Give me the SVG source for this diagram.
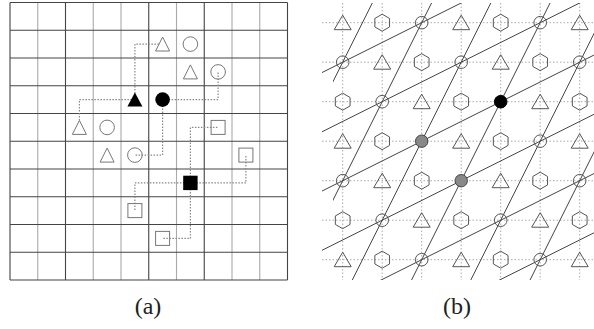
<svg xmlns="http://www.w3.org/2000/svg" width="594" height="329" viewBox="0 0 594 329">
<style>
.gd{stroke:#444;stroke-width:1.1;fill:none}
.gl{stroke:#aaa;stroke-width:1.1;fill:none}
.sa{stroke:#777;stroke-width:1;fill:none}
.dot{stroke:#888;stroke-width:1.2;stroke-dasharray:1.5 1.5;fill:none}
.bg{stroke:#aaa;stroke-width:1;stroke-dasharray:1.5 2;fill:none}
.ln{stroke:#444;stroke-width:1;fill:none}
.sb{stroke:#555;stroke-width:1;fill:none}
.cap{font-family:"Liberation Serif","DejaVu Serif",serif;font-size:24px;fill:#222;text-anchor:middle}
</style>
<defs>
<clipPath id="cs"><rect x="322" y="3" width="272" height="277"/></clipPath>
<clipPath id="ct"><rect x="333" y="3" width="261" height="277"/></clipPath>
<polygon id="tri" points="0,-7.5 -8.5,7 8.5,7"/>
<polygon id="hex" points="0,-8.5 7.36,-4.25 7.36,4.25 0,8.5 -7.36,4.25 -7.36,-4.25"/>
</defs>
<rect width="594" height="329" fill="#fff"/>

<!-- Panel (a) grid -->
<g id="grid-a">
<path class="gl" d="M37.75,2.5V280M93.25,2.5V280M121,2.5V280M176.5,2.5V280M232,2.5V280M259.75,2.5V280"/>
<path class="gd" d="M10,2.5V280M65.5,2.5V280M148.75,2.5V280M204.25,2.5V280M287.5,2.5V280"/>
<path class="gd" d="M10,2.5H287.5M10,30.25H287.5M10,58H287.5M10,85.75H287.5M10,113.5H287.5M10,141.25H287.5M10,169H287.5M10,196.75H287.5M10,224.5H287.5M10,252.25H287.5M10,280H287.5"/>
</g>

<g id="connectors-a">
<path class="dot" d="M134.9,99.6V44.1H159"/>
<path class="dot" d="M134.9,99.6H79.4V120"/>
<path class="dot" d="M162.6,99.6H218.1V71.9"/>
<path class="dot" d="M162.6,99.6V155.1H134.9"/>
<path class="dot" d="M190.4,182.9V127.4H218.1"/>
<path class="dot" d="M190.4,182.9H245.9V155.1"/>
<path class="dot" d="M190.4,182.9H134.9V210.6"/>
<path class="dot" d="M190.4,182.9V238.4H162.6"/>
</g>

<g id="a-tri-filled"><polygon points="134.9,92.6 127.4,106.6 142.4,106.6" fill="#000"/></g>
<g id="a-circ-filled"><circle cx="162.6" cy="99.6" r="7.3" fill="#000"/></g>
<g id="a-sq-filled"><rect x="183.2" y="175.7" width="14.4" height="14.4" fill="#000"/></g>
<g id="a-tri1"><polygon class="sa" points="162.6,37 155.6,51 169.6,51"/></g>
<g id="a-tri2"><polygon class="sa" points="190.4,64.9 183.4,78.9 197.4,78.9"/></g>
<g id="a-tri3"><polygon class="sa" points="79.4,120.4 72.4,134.4 86.4,134.4"/></g>
<g id="a-tri4"><polygon class="sa" points="107.1,148.1 100.1,162.1 114.1,162.1"/></g>
<g id="a-circ1"><circle class="sa" cx="190.4" cy="44.1" r="7.3"/></g>
<g id="a-circ2"><circle class="sa" cx="218.1" cy="71.9" r="7.3"/></g>
<g id="a-circ3"><circle class="sa" cx="107.1" cy="127.4" r="7.3"/></g>
<g id="a-circ4"><circle class="sa" cx="134.9" cy="155.1" r="7.3"/></g>
<g id="a-sq1"><rect class="sa" x="211.1" y="120.4" width="14" height="14"/></g>
<g id="a-sq2"><rect class="sa" x="238.9" y="148.1" width="14" height="14"/></g>
<g id="a-sq3"><rect class="sa" x="127.9" y="203.6" width="14" height="14"/></g>
<g id="a-sq4"><rect class="sa" x="155.6" y="231.4" width="14" height="14"/></g>

<!-- Panel (b) -->
<g id="grid-b">
<path class="bg" d="M322,22.7H594M322,62.2H594M322,101.7H594M322,141.2H594M322,180.7H594M322,220.2H594M322,259.7H594"/>
<path class="bg" d="M342.7,3V280M382.2,3V280M421.7,3V280M461.2,3V280M500.7,3V280M540.2,3V280M579.7,3V280"/>
</g>

<g id="lines-b">
<g clip-path="url(#cs)">
<path class="ln" d="M300,83.55L600,-66.45M300,142.8L600,-7.2M300,202.05L600,52.05M300,261.3L600,111.3M300,320.55L600,170.55M300,379.8L600,229.8"/>
</g>
<g clip-path="url(#ct)">
<path class="ln" d="M378.8,-10L223.8,300M438.05,-10L283.05,300M497.3,-10L342.3,300M556.55,-10L401.55,300M615.8,-10L460.8,300M675.05,-10L520.05,300"/>
</g>
</g>

<g id="b-triangles" class="sb">
<use href="#tri" x="342.7" y="22.7"/><use href="#tri" x="461.2" y="22.7"/><use href="#tri" x="579.7" y="22.7"/>
<use href="#tri" x="382.2" y="62.2"/><use href="#tri" x="500.7" y="62.2"/>
<use href="#tri" x="421.7" y="101.7"/><use href="#tri" x="540.2" y="101.7"/>
<use href="#tri" x="342.7" y="141.2"/><use href="#tri" x="461.2" y="141.2"/><use href="#tri" x="579.7" y="141.2"/>
<use href="#tri" x="382.2" y="180.7"/><use href="#tri" x="500.7" y="180.7"/>
<use href="#tri" x="421.7" y="220.2"/><use href="#tri" x="540.2" y="220.2"/>
<use href="#tri" x="342.7" y="259.7"/><use href="#tri" x="461.2" y="259.7"/><use href="#tri" x="579.7" y="259.7"/>
</g>
<g id="b-hexagons" class="sb">
<use href="#hex" x="382.2" y="22.7"/><use href="#hex" x="500.7" y="22.7"/>
<use href="#hex" x="421.7" y="62.2"/><use href="#hex" x="540.2" y="62.2"/>
<use href="#hex" x="342.7" y="101.7"/><use href="#hex" x="461.2" y="101.7"/><use href="#hex" x="579.7" y="101.7"/>
<use href="#hex" x="382.2" y="141.2"/><use href="#hex" x="500.7" y="141.2"/>
<use href="#hex" x="421.7" y="180.7"/><use href="#hex" x="540.2" y="180.7"/>
<use href="#hex" x="342.7" y="220.2"/><use href="#hex" x="461.2" y="220.2"/><use href="#hex" x="579.7" y="220.2"/>
<use href="#hex" x="382.2" y="259.7"/><use href="#hex" x="500.7" y="259.7"/>
</g>
<g id="b-circles" class="sb">
<circle cx="421.7" cy="22.7" r="6.3"/><circle cx="540.2" cy="22.7" r="6.3"/>
<circle cx="342.7" cy="62.2" r="6.3"/><circle cx="461.2" cy="62.2" r="6.3"/><circle cx="579.7" cy="62.2" r="6.3"/>
<circle cx="382.2" cy="101.7" r="6.3"/>
<circle cx="540.2" cy="141.2" r="6.3"/>
<circle cx="342.7" cy="180.7" r="6.3"/><circle cx="579.7" cy="180.7" r="6.3"/>
<circle cx="382.2" cy="220.2" r="6.3"/><circle cx="500.7" cy="220.2" r="6.3"/>
<circle cx="421.7" cy="259.7" r="6.3"/><circle cx="540.2" cy="259.7" r="6.3"/>
</g>
<g id="b-black"><circle cx="500.7" cy="101.7" r="6.3" fill="#000" stroke="#000"/></g>
<g id="b-gray1"><circle cx="421.7" cy="141.2" r="6.2" fill="#888" stroke="#444"/></g>
<g id="b-gray2"><circle cx="461.2" cy="180.7" r="6.2" fill="#888" stroke="#444"/></g>

<text class="cap" x="148" y="314">(a)</text>
<text class="cap" x="457" y="314">(b)</text>
</svg>
